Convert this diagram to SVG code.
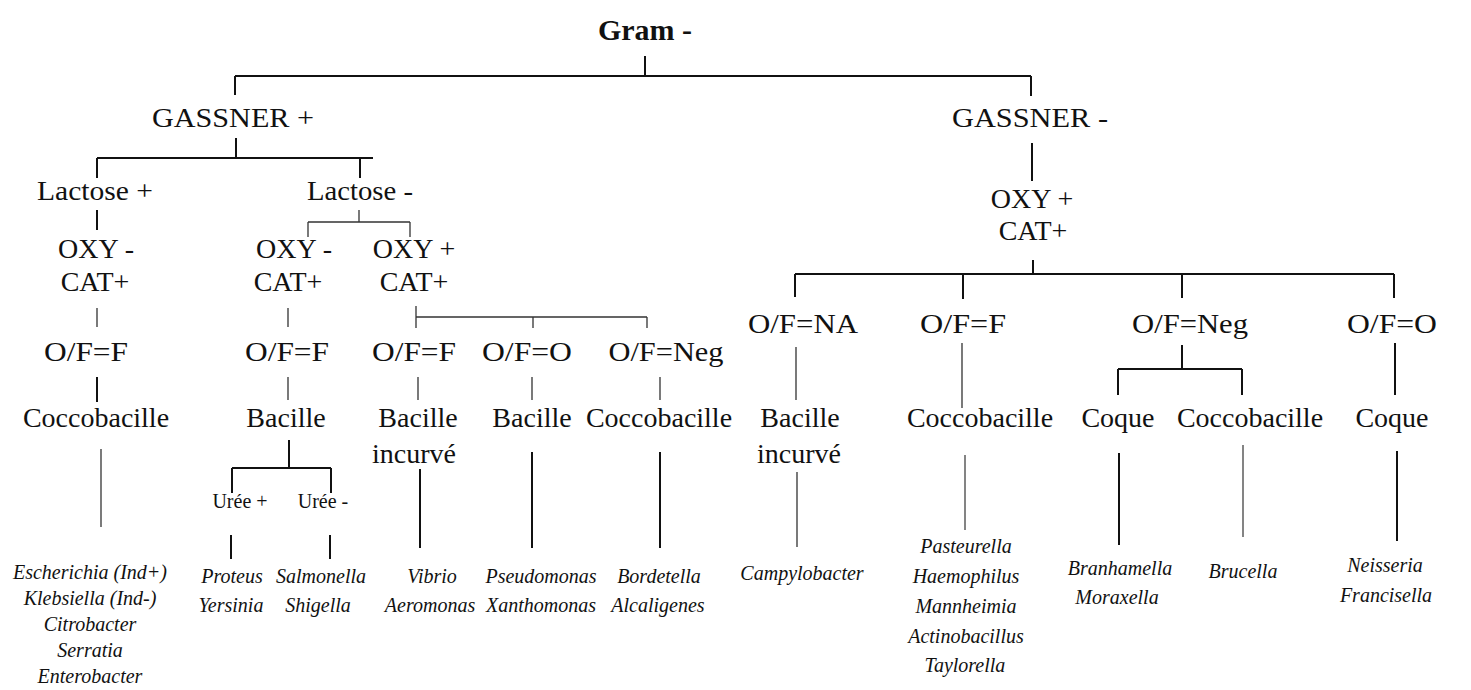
<svg xmlns="http://www.w3.org/2000/svg" width="1471" height="690" viewBox="0 0 1471 690">
<style>
text{font-family:'Liberation Serif','DejaVu Serif',serif;fill:#111;text-anchor:middle}
.t{font-size:28px}
.s{font-size:20px}
.i{font-size:20px;font-style:italic}
.b{font-size:30px;font-weight:bold}
.k{stroke:#111;stroke-width:2;fill:none}
.n{stroke:#333;stroke-width:1.3;fill:none}
.g{stroke:#666;stroke-width:1.6;fill:none}
</style>
<rect width="1471" height="690" fill="#fff"/>
<g id="connectors">
<path class="k" d="M645 56V76M235 76H1031M235 76V95M1031 76V96"/>
<path class="k" d="M236 138V158M97 158H373M97 158V178M360 158V178"/>
<path class="k" d="M97 210V230"/>
<path class="n" d="M359 210V222M308 222H410M308 222V237M410 222V237"/>
<path class="n" d="M97 308V327M288 308V327"/>
<path class="n" d="M416 306V328M416 317H647M533 317V328M647 317V328"/>
<path class="k" d="M97 377V402"/>
<path class="n" d="M288 377V400M418 377V400M532 377V400M660 377V400"/>
<path class="n" d="M101 449V527"/>
<path class="k" d="M289 440V468M232 468H331M232 468V493M331 468V493M231 535V559M330 535V559"/>
<path class="k" d="M420 469V548M532 452V548M660 452V548"/>
<path class="k" d="M1032 143V181M1033 260V274M795 274H1394M795 274V297M963 274V299M1182 274V298M1394 274V298"/>
<path class="n" d="M796 347V400M962 343V408M797 472V547"/>
<path class="k" d="M1182 345V369M1118 369H1242M1118 369V395M1242 369V395M1395 343V395"/>
<path class="g" d="M965 455V530M1243 445V537"/>
<path class="k" d="M1119 453V545M1397 451V541"/>
</g>
<g font-family="Liberation Serif, DejaVu Serif, serif">
<g id="gram"><text class="b" x="645" y="40">Gram -</text></g>
<g id="gassner-pos"><text class="t" x="233" y="127" textLength="162" lengthAdjust="spacingAndGlyphs">GASSNER +</text></g>
<g id="gassner-neg"><text class="t" x="1030" y="127" textLength="156" lengthAdjust="spacingAndGlyphs">GASSNER -</text></g>
<g id="lactose-pos"><text class="t" x="95" y="200" textLength="116" lengthAdjust="spacingAndGlyphs">Lactose +</text></g>
<g id="lactose-neg"><text class="t" x="360" y="200" textLength="106" lengthAdjust="spacingAndGlyphs">Lactose -</text></g>
<g id="oxy-l1"><text class="t" x="96" y="258">OXY -</text><text class="t" x="95" y="291">CAT+</text></g>
<g id="oxy-l2"><text class="t" x="294" y="258">OXY -</text><text class="t" x="288" y="291">CAT+</text></g>
<g id="oxy-l3"><text class="t" x="414" y="258">OXY +</text><text class="t" x="414" y="291">CAT+</text></g>
<g id="of-l1"><text class="t" x="86" y="361" textLength="84" lengthAdjust="spacingAndGlyphs">O/F=F</text></g>
<g id="of-l2"><text class="t" x="287" y="361" textLength="84" lengthAdjust="spacingAndGlyphs">O/F=F</text></g>
<g id="of-l3"><text class="t" x="414" y="361" textLength="84" lengthAdjust="spacingAndGlyphs">O/F=F</text></g>
<g id="of-l4"><text class="t" x="527" y="361" textLength="90" lengthAdjust="spacingAndGlyphs">O/F=O</text></g>
<g id="of-l5"><text class="t" x="666" y="361" textLength="115" lengthAdjust="spacingAndGlyphs">O/F=Neg</text></g>
<g id="morph-l1"><text class="t" x="96" y="427">Coccobacille</text></g>
<g id="morph-l2"><text class="t" x="286" y="427">Bacille</text></g>
<g id="morph-l3"><text class="t" x="418" y="427">Bacille</text><text class="t" x="414" y="463">incurvé</text></g>
<g id="morph-l4"><text class="t" x="532" y="427">Bacille</text></g>
<g id="morph-l5"><text class="t" x="659" y="427">Coccobacille</text></g>
<g id="uree-pos"><text class="s" x="240" y="508">Urée +</text></g>
<g id="uree-neg"><text class="s" x="323" y="508">Urée -</text></g>
<g id="sp-entero"><text class="i" x="90" y="579">Escherichia (Ind+)</text><text class="i" x="90" y="605">Klebsiella (Ind-)</text><text class="i" x="90" y="631">Citrobacter</text><text class="i" x="90" y="657">Serratia</text><text class="i" x="90" y="683">Enterobacter</text></g>
<g id="sp-proteus"><text class="i" x="232" y="583">Proteus</text><text class="i" x="231" y="612">Yersinia</text></g>
<g id="sp-salmonella"><text class="i" x="321" y="583">Salmonella</text><text class="i" x="318" y="612">Shigella</text></g>
<g id="sp-vibrio"><text class="i" x="432" y="583">Vibrio</text><text class="i" x="430" y="612">Aeromonas</text></g>
<g id="sp-pseudo"><text class="i" x="541" y="583">Pseudomonas</text><text class="i" x="541" y="612">Xanthomonas</text></g>
<g id="sp-bordetella"><text class="i" x="659" y="583">Bordetella</text><text class="i" x="658" y="612">Alcaligenes</text></g>
<g id="oxy-r"><text class="t" x="1032" y="208">OXY +</text><text class="t" x="1033" y="240">CAT+</text></g>
<g id="of-r1"><text class="t" x="803" y="333" textLength="110" lengthAdjust="spacingAndGlyphs">O/F=NA</text></g>
<g id="of-r2"><text class="t" x="963" y="333" textLength="86" lengthAdjust="spacingAndGlyphs">O/F=F</text></g>
<g id="of-r3"><text class="t" x="1190" y="333" textLength="116" lengthAdjust="spacingAndGlyphs">O/F=Neg</text></g>
<g id="of-r4"><text class="t" x="1392" y="333" textLength="90" lengthAdjust="spacingAndGlyphs">O/F=O</text></g>
<g id="morph-r1"><text class="t" x="800" y="427">Bacille</text><text class="t" x="799" y="463">incurvé</text></g>
<g id="morph-r2"><text class="t" x="980" y="427">Coccobacille</text></g>
<g id="morph-r3"><text class="t" x="1118" y="427">Coque</text></g>
<g id="morph-r4"><text class="t" x="1250" y="427">Coccobacille</text></g>
<g id="morph-r5"><text class="t" x="1392" y="427">Coque</text></g>
<g id="sp-campylo"><text class="i" x="802" y="580">Campylobacter</text></g>
<g id="sp-pasteur"><text class="i" x="966" y="553">Pasteurella</text><text class="i" x="966" y="583">Haemophilus</text><text class="i" x="966" y="613">Mannheimia</text><text class="i" x="966" y="643">Actinobacillus</text><text class="i" x="965" y="672">Taylorella</text></g>
<g id="sp-branha"><text class="i" x="1120" y="575">Branhamella</text><text class="i" x="1117" y="604">Moraxella</text></g>
<g id="sp-brucella"><text class="i" x="1243" y="578">Brucella</text></g>
<g id="sp-neisseria"><text class="i" x="1385" y="572">Neisseria</text><text class="i" x="1386" y="602">Francisella</text></g>
</g>
</svg>
